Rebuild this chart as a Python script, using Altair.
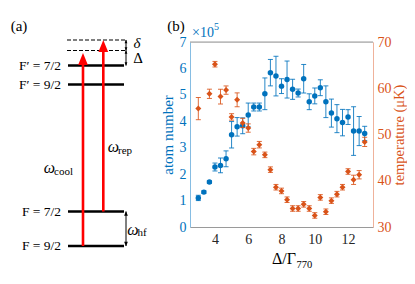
import altair as alt
import pandas as pd

# ---------------- data (panel b) ----------------
detuning = [3.0, 3.333, 3.667, 4.0, 4.333, 4.667, 5.0, 5.333, 5.667, 6.0, 6.333, 6.667,
            7.0, 7.333, 7.667, 8.0, 8.333, 8.667, 9.0, 9.333, 9.667, 10.0, 10.333, 10.667,
            11.0, 11.333, 11.667, 12.0, 12.333, 12.667, 13.0]
atom_number = [1.10, 1.32, 1.70, 2.27, 2.33, 2.58, 3.49, 3.79, 3.83, 4.24, 4.54, 4.54,
               5.04, 5.84, 5.71, 5.33, 5.58, 5.21, 5.07, 5.61, 4.74, 4.96, 5.27, 4.74,
               4.31, 4.10, 3.95, 4.16, 3.63, 3.63, 3.54]
atom_err = [0.10, 0.05, 0.05, 0.15, 0.28, 0.30, 0.50, 0.35, 0.30, 0.45, 0.15, 0.15,
            0.60, 0.50, 0.75, 0.28, 0.70, 0.38, 0.15, 0.54, 0.30, 0.30, 0.30, 0.60,
            0.53, 0.53, 0.50, 0.28, 0.92, 0.55, 0.27]

detuning_T = [3.0, 3.667, 4.0, 4.333, 4.667, 5.0, 5.333, 5.667, 6.0, 6.333, 6.667,
              7.0, 7.333, 7.667, 8.0, 8.333, 8.667, 9.0, 9.333, 9.667, 10.0, 10.333, 10.667,
              11.0, 11.333, 11.667, 12.0, 12.333, 12.667, 13.0]
temperature = [55.6, 58.8, 65.2, 58.2, 59.6, 53.8, 57.5, 52.5, 51.4, 46.3, 47.8,
               45.6, 42.4, 38.6, 37.8, 35.9, 34.0, 34.0, 34.9, 34.0, 32.5, 36.4, 33.3,
               35.7, 37.1, 38.6, 42.0, 40.2, 41.3, 48.4]
temp_err = [2.4, 1.0, 0.6, 1.6, 0.9, 0.7, 1.5, 1.0, 0.9, 0.7, 0.7,
            0.6, 0.6, 0.6, 0.6, 0.6, 0.6, 0.6, 0.6, 0.6, 0.6, 0.6, 0.6,
            0.6, 0.6, 0.6, 0.6, 1.0, 0.9, 1.0]

x_ticks = [4, 6, 8, 10, 12]
n_ticks = [0, 1, 2, 3, 4, 5, 6, 7]
t_ticks = [30, 40, 50, 60, 70]

# ---------------- data (panel a: level scheme) ----------------
level_names = ["F = 9/2", "F = 7/2", "F′ = 9/2", "F′ = 7/2"]
level_pos = [246, 211.5, 84.5, 65.5]          # vertical position of the levels in the scheme
virtual_pos = [40, 50.5]                      # dashed (detuned) levels

BLUE = "#0072BD"
ORANGE = "#D95319"
FONT = "Liberation Serif"

W, H = 183, 185

dn = pd.DataFrame({"x": detuning, "n": atom_number,
                   "lo": [a - e for a, e in zip(atom_number, atom_err)],
                   "hi": [a + e for a, e in zip(atom_number, atom_err)]})
dt = pd.DataFrame({"x": detuning_T, "t": temperature,
                   "lo": [a - e for a, e in zip(temperature, temp_err)],
                   "hi": [a + e for a, e in zip(temperature, temp_err)]})

xscale = alt.Scale(domain=[2.5, 13.5], nice=False, zero=False)
xaxis = alt.Axis(values=x_ticks, title=None, labelFont=FONT, labelFontSize=14,
                 labelColor="#262626", domainColor="#9a9a9a", ticks=False,
                 labelPadding=5, grid=False, orient="bottom")
nscale = alt.Scale(domain=[0, 7], nice=False)
naxis = alt.Axis(values=n_ticks, title="atom number", titleColor=BLUE, titleFont=FONT,
                 titleFontSize=15, titleFontWeight="normal", labelFont=FONT,
                 labelFontSize=14, labelColor=BLUE, domainColor="#86bde3",
                 ticks=False, labelPadding=4, titlePadding=4, grid=False, orient="left")
tscale = alt.Scale(domain=[30, 70], nice=False, zero=False)
taxis = alt.Axis(values=t_ticks, title="temperature (μK)", titleColor=ORANGE,
                 titleFont=FONT, titleFontSize=14.5, titleFontWeight="normal",
                 titleAngle=270, titleBaseline="top",
                 labelFont=FONT, labelFontSize=14, labelColor=ORANGE,
                 domainColor="#efb29b", ticks=False, labelPadding=4, titlePadding=1,
                 grid=False, orient="right")

X = alt.X("x:Q", scale=xscale, axis=xaxis)

# ---- atom number (left axis) ----
bn = alt.Chart(dn)
n_bar = bn.mark_rule(color=BLUE, strokeWidth=1, opacity=0.85).encode(
    x=X, y=alt.Y("lo:Q", scale=nscale, axis=naxis), y2="hi:Q")
n_cap1 = bn.mark_tick(orient="horizontal", size=5, thickness=1, color=BLUE, opacity=0.85).encode(
    x=X, y=alt.Y("lo:Q", scale=nscale, axis=naxis))
n_cap2 = bn.mark_tick(orient="horizontal", size=5, thickness=1, color=BLUE, opacity=0.85).encode(
    x=X, y=alt.Y("hi:Q", scale=nscale, axis=naxis))
n_pts = bn.mark_circle(size=30, color=BLUE, opacity=1).encode(
    x=X, y=alt.Y("n:Q", scale=nscale, axis=naxis))
frame = alt.Chart(pd.DataFrame({"a": [0]})).mark_rule(color="#9a9a9a", strokeWidth=1).encode(
    x=alt.datum(2.5, scale=xscale, axis=xaxis), x2=alt.datum(13.5),
    y=alt.datum(7, scale=nscale, axis=naxis))
left = alt.layer(frame, n_bar, n_cap1, n_cap2, n_pts)

# ---- temperature (right axis) ----
bt = alt.Chart(dt)
t_bar = bt.mark_rule(color=ORANGE, strokeWidth=1, opacity=0.85).encode(
    x=X, y=alt.Y("lo:Q", scale=tscale, axis=taxis), y2="hi:Q")
t_cap1 = bt.mark_tick(orient="horizontal", size=5, thickness=1, color=ORANGE, opacity=0.85).encode(
    x=X, y=alt.Y("lo:Q", scale=tscale, axis=taxis))
t_cap2 = bt.mark_tick(orient="horizontal", size=5, thickness=1, color=ORANGE, opacity=0.85).encode(
    x=X, y=alt.Y("hi:Q", scale=tscale, axis=taxis))
t_pts = bt.mark_point(shape="diamond", size=36, filled=True, color=ORANGE, opacity=1).encode(
    x=X, y=alt.Y("t:Q", scale=tscale, axis=taxis))
right = alt.layer(t_bar, t_cap1, t_cap2, t_pts)

data_layer = alt.layer(left, right).resolve_scale(y="independent")

# ---------------- panel (a) + annotations (scheme coordinates) ----------------
sx = alt.Scale(domain=[0, 415], range=[-190, 225], nice=False, zero=False)
sy = alt.Scale(domain=[0, 284], range=[-42, 242], nice=False, zero=False)


def XX(f="x"):
    return alt.X(f + ":Q", scale=sx, axis=None)


def YY(f="y"):
    return alt.Y(f + ":Q", scale=sy, axis=None)


levels = pd.DataFrame({"name": level_names, "y": level_pos,
                       "x1": [68] * 4, "x2": [124] * 4, "lx": [61] * 4})
lv = alt.Chart(levels)
level_lines = lv.mark_rule(color="black", strokeWidth=2.6).encode(x=XX("x1"), x2="x2:Q", y=YY())
level_text = lv.mark_text(align="right", baseline="middle", font=FONT, fontSize=13.5,
                          color="black").encode(x=XX("lx"), y=YY(), text="name:N")

virt = pd.DataFrame({"y": virtual_pos, "x1": [67, 67], "x2": [125, 125]})
virt_lines = alt.Chart(virt).mark_rule(color="black", strokeWidth=1.1, strokeDash=[4, 2]).encode(
    x=XX("x1"), x2="x2:Q", y=YY())

# red laser arrows
lasers = pd.DataFrame({"x": [83, 103.3], "y1": [level_pos[0], level_pos[1]],
                       "y2": [62, 48], "hy": [59, 46]})
la = alt.Chart(lasers)
laser_lines = la.mark_rule(color="#ff0000", strokeWidth=2.6).encode(x=XX(), y=YY("y1"), y2="y2:Q")
UP = "M0,-1L0.8,1L-0.8,1Z"
DOWN = "M0,1L0.8,-1L-0.8,-1Z"
laser_heads = la.mark_point(shape=UP, size=150, filled=True, color="#ff0000", opacity=1,
                            strokeWidth=0).encode(x=XX(), y=YY("hy"))

# black double arrows
dbl = pd.DataFrame({"x": [126, 126, 126], "y1": [virtual_pos[0], virtual_pos[1], level_pos[1]],
                    "y2": [virtual_pos[1], level_pos[3], level_pos[0]]})
db = alt.Chart(dbl)
dbl_lines = db.mark_rule(color="black", strokeWidth=1).encode(x=XX(), y=YY("y1"), y2="y2:Q")
heads = pd.DataFrame({"x": [126] * 6,
                      "y": [41.5, 49, 52, 64, 213.5, 244],
                      "s": ["u", "d", "u", "d", "u", "d"],
                      "sz": [12, 12, 12, 12, 22, 22]})
hu = alt.Chart(heads).transform_filter("datum.s == 'u'").mark_point(
    shape=UP, filled=True, color="black", opacity=1, strokeWidth=0).encode(
    x=XX(), y=YY(), size=alt.Size("sz:Q", scale=None))
hd = alt.Chart(heads).transform_filter("datum.s == 'd'").mark_point(
    shape=DOWN, filled=True, color="black", opacity=1, strokeWidth=0).encode(
    x=XX(), y=YY(), size=alt.Size("sz:Q", scale=None))


def txt(label, x, y, size=13, color="black", align="center", style="normal"):
    return alt.Chart(pd.DataFrame({"x": [x], "y": [y], "t": [label]})).mark_text(
        align=align, baseline="middle", font=FONT, fontSize=size, color=color,
        fontStyle=style).encode(x=XX(), y=YY(), text="t:N")


texts = [
    txt("(a)", 19, 26, 15),
    txt("(b)", 176, 26, 15),
    txt("δ", 137, 43, 15, style="italic"),
    txt("Δ", 138, 58, 15),
    txt("ω", 49.5, 168, 16, style="italic"),
    txt("cool", 54, 172, 11, align="left"),
    txt("ω", 113.5, 147, 16, style="italic"),
    txt("rep", 118, 150.5, 11, align="left"),
    txt("ω", 133, 229.5, 16, style="italic"),
    txt("hf", 137.5, 232.5, 11, align="left"),
    txt("×10", 192, 33, 14, color=BLUE, align="left"),
    txt("5", 214, 27, 10, color=BLUE, align="left"),
    txt("Δ/Γ", 296, 259, 16, align="right"),
    txt("770", 296.5, 265, 10.5, align="left"),
]

scheme = alt.layer(virt_lines, level_lines, level_text, laser_lines, laser_heads,
                   dbl_lines, hu, hd, *texts)

chart = alt.layer(data_layer, scheme).resolve_scale(x="independent", y="independent").properties(
    width=W, height=H,
    autosize=alt.AutoSizeParams(type="none"),
    padding={"left": 182, "top": 34, "right": 34, "bottom": 49},
).configure_view(stroke=None).configure(background="white")

chart.save("out.html", embed_options={"renderer": "svg", "actions": False})
